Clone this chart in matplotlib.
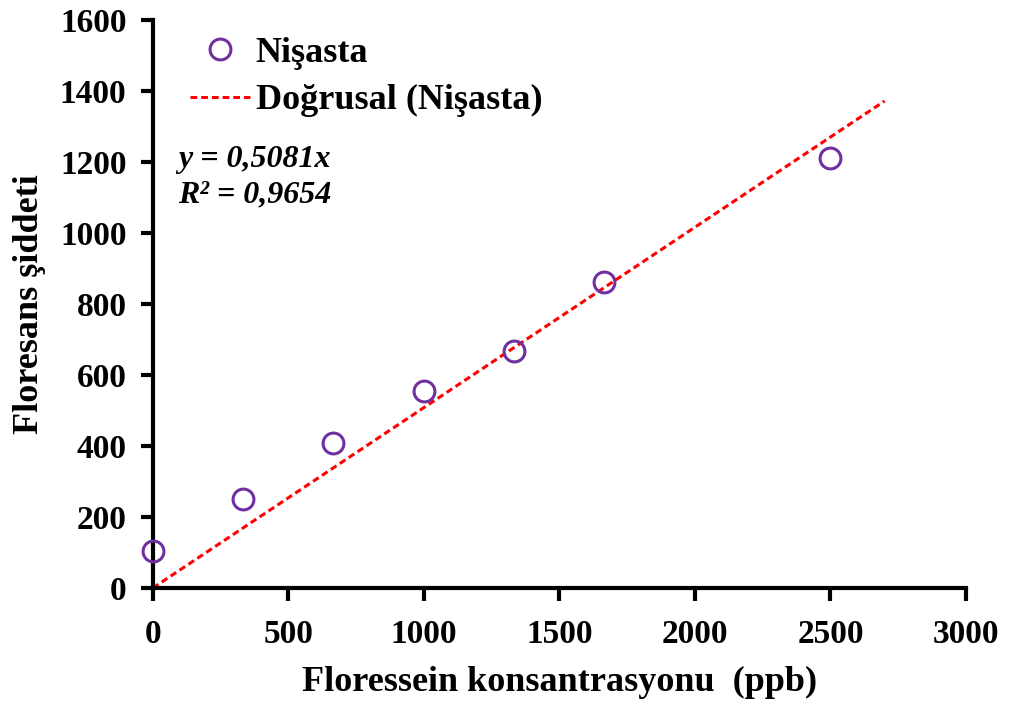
import numpy as np
import matplotlib.pyplot as plt

plt.rcParams['font.family'] = ['Liberation Serif', 'DejaVu Serif']
plt.rcParams['font.weight'] = 'bold'

# data
konsantrasyon = [0, 333, 666, 1000, 1333, 1666, 2500]
siddet = [104, 252, 408, 554, 667, 862, 1210]
egim = 0.5081
trend_x = [0, 2700]

fig = plt.figure(figsize=(10.12, 7.02), dpi=100)
ax = fig.add_axes([0.151, 0.1624, 0.8035, 0.8091])

trend_y = [egim * v for v in trend_x]
ax.plot(trend_x, trend_y, '--', color='#ff0000', lw=2.2, dashes=(2.2, 1.3),
        label='Doğrusal (Nişasta)', zorder=2)
ax.plot(konsantrasyon, siddet, 'o', mfc='none', mec='#7030a0', mew=2.2, ms=15,
        label='Nişasta', ls='none', zorder=3, clip_on=False)

ax.set_xlim(0, 3000)
ax.set_ylim(0, 1600)
ax.set_xticks(np.arange(0, 3001, 500))
ax.set_yticks(np.arange(0, 1601, 200))
for s in ['top', 'right']:
    ax.spines[s].set_visible(False)
for s in ['left', 'bottom']:
    ax.spines[s].set_linewidth(3)
ax.tick_params(direction='out', width=3, length=9, labelsize=24)
ax.tick_params(axis='x', pad=13)
ax.tick_params(axis='y', pad=10)
for lbl in ax.get_xticklabels() + ax.get_yticklabels():
    lbl.set_fontweight('bold')

ax.set_xlabel('Floressein konsantrasyonu  (ppb)', fontsize=26, fontweight='bold', labelpad=12)
ax.set_ylabel('Floresans şiddeti', fontsize=26, fontweight='bold', labelpad=10)

h, l = ax.get_legend_handles_labels()
ax.legend(h[::-1], l[::-1], loc='upper left', bbox_to_anchor=(0.0455, 0.971), frameon=False,
          prop={'size': 26, 'weight': 'bold'}, handlelength=1.67, handletextpad=0.15,
          labelspacing=0.4, borderpad=0, borderaxespad=0)

ax.text(0.031, 0.754, 'y = 0,5081x', transform=ax.transAxes,
        fontsize=23, fontweight='bold', style='italic', va='center')
ax.text(0.031, 0.692, 'R² = 0,9654', transform=ax.transAxes,
        fontsize=23, fontweight='bold', style='italic', va='center')

fig.savefig('out.png', dpi=100)
